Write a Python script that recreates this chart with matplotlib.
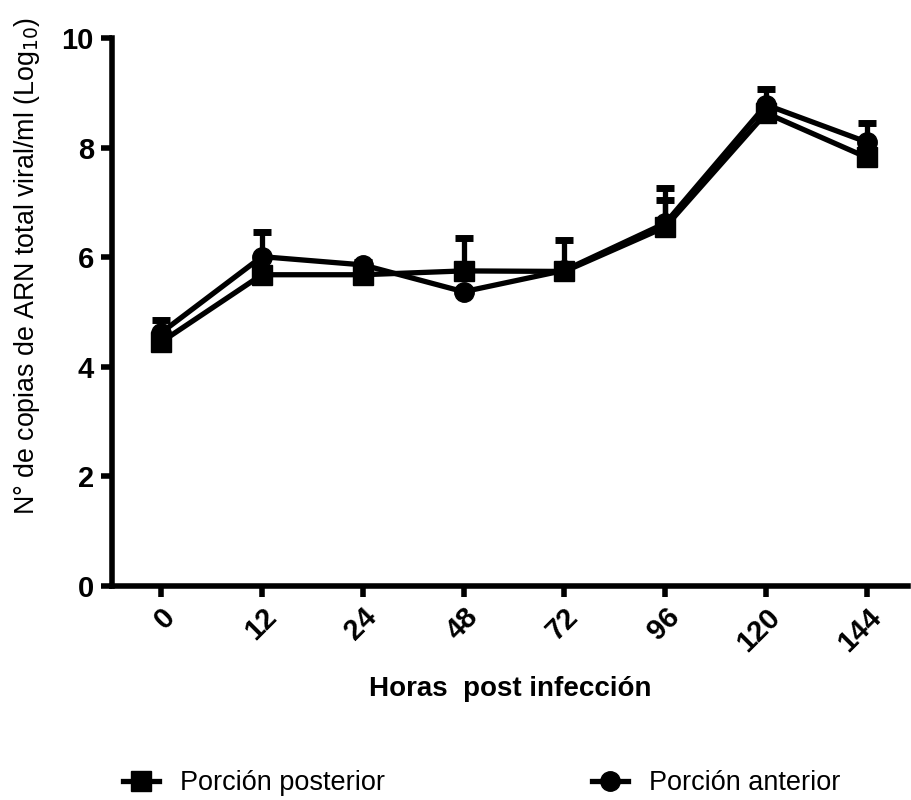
import matplotlib
matplotlib.use("Agg")
import matplotlib.pyplot as plt
from matplotlib.lines import Line2D
import numpy as np

plt.rcParams['font.family'] = ['Liberation Sans', 'DejaVu Sans']

# datos
horas = ['0', '12', '24', '48', '72', '96', '120', '144']
posterior = [4.45, 5.68, 5.68, 5.75, 5.74, 6.55, 8.63, 7.82]
posterior_err = [0.0, 0.0, 0.08, 0.60, 0.57, 0.49, 0.08, 0.08]
anterior = [4.62, 6.01, 5.86, 5.37, 5.76, 6.62, 8.78, 8.10]
anterior_err = [0.23, 0.45, 0.05, 0.0, 0.0, 0.64, 0.29, 0.35]

fig = plt.figure(figsize=(9.11, 8.0), dpi=100)
ax = fig.add_axes([0.123, 0.2675, 0.874, 0.685])

x = np.arange(len(horas))
ax.errorbar(x, posterior, yerr=[np.zeros(len(x)), posterior_err], color='black',
            marker='s', markersize=14, linewidth=3.8, capsize=6.5, capthick=5,
            elinewidth=3.8, zorder=3)
ax.errorbar(x, anterior, yerr=[np.zeros(len(x)), anterior_err], color='black',
            marker='o', markersize=14, linewidth=3.8, capsize=6.5, capthick=5,
            elinewidth=3.8, zorder=4)

ax.set_xlim(-0.486, 7.41)
ax.set_ylim(0, 10)
ax.set_yticks([0, 2, 4, 6, 8, 10])
ax.set_xticks(x)
ax.set_xticklabels(horas, rotation=45, ha='right', va='top', rotation_mode='anchor')

for s in ['top', 'right']:
    ax.spines[s].set_visible(False)
for s in ['left', 'bottom']:
    ax.spines[s].set_linewidth(4)
ax.tick_params(axis='both', width=4, length=8, labelsize=21, pad=5)
ax.tick_params(axis='x', pad=4)
for lab in ax.get_xticklabels() + ax.get_yticklabels():
    lab.set_fontweight('bold')

ax.set_xlabel('Horas  post infección', fontsize=20, fontweight='bold', labelpad=14)
ax.set_ylabel('N° de copias de ARN total viral/ml (Log$_{10}$)', fontsize=19.3)
ax.yaxis.set_label_coords(-0.088, 0.584)

h_post = Line2D([], [], color='black', marker='s', markersize=14, linewidth=3.8)
h_ant = Line2D([], [], color='black', marker='o', markersize=14, linewidth=3.8)
fig.legend([h_post], ['Porción posterior'], loc='center left', bbox_to_anchor=(0.108, 0.021),
           frameon=False, fontsize=19.5, handlelength=1.35, handletextpad=0.75)
fig.legend([h_ant], ['Porción anterior'], loc='center left', bbox_to_anchor=(0.623, 0.021),
           frameon=False, fontsize=19.5, handlelength=1.35, handletextpad=0.75)

fig.savefig('out.png', dpi=100)
